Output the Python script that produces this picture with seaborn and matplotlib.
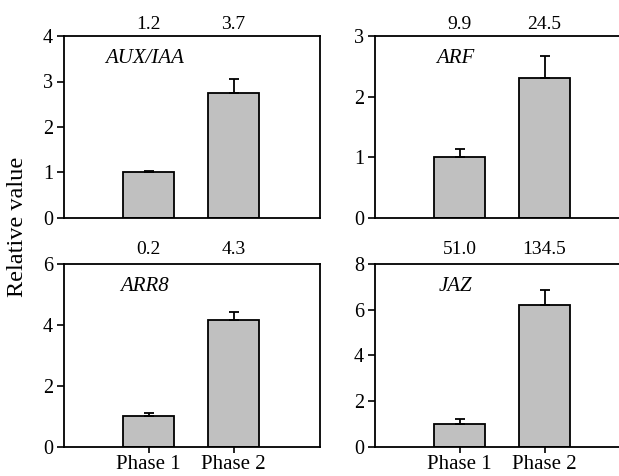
import pandas as pd
import matplotlib
matplotlib.use("Agg")
import matplotlib.pyplot as plt
import matplotlib.transforms as mtransforms
import seaborn as sns

# Data
phases = ["Phase 1", "Phase 2"]
genes = ["AUX/IAA", "ARF", "ARR8", "JAZ"]
means = {
    "AUX/IAA": [1.0, 2.74],
    "ARF": [1.0, 2.30],
    "ARR8": [1.0, 4.16],
    "JAZ": [1.0, 6.20],
}
errors = {
    "AUX/IAA": [0.03, 0.32],
    "ARF": [0.13, 0.37],
    "ARR8": [0.10, 0.27],
    "JAZ": [0.21, 0.64],
}
top_labels = {
    "AUX/IAA": ["1.2", "3.7"],
    "ARF": ["9.9", "24.5"],
    "ARR8": ["0.2", "4.3"],
    "JAZ": ["51.0", "134.5"],
}
y_max = {"AUX/IAA": 4, "ARF": 3, "ARR8": 6, "JAZ": 8}
y_step = {"AUX/IAA": 1, "ARF": 1, "ARR8": 2, "JAZ": 2}

sns.set_theme(style="white")
plt.rcParams["font.family"] = ["Liberation Serif", "DejaVu Serif"]

fig = plt.figure(figsize=(6.19, 4.76), dpi=100)

W, H = 619, 476
ax_w = 256
boxes = {
    "AUX/IAA": (64, 36, 218),
    "ARF": (375, 36, 218),
    "ARR8": (64, 264, 446.7),
    "JAZ": (375, 264, 446.7),
}

for gene in genes:
    x0, ytop, ybot = boxes[gene]
    ax = fig.add_axes([x0 / W, 1 - ybot / H, ax_w / W, (ybot - ytop) / H])
    df = pd.DataFrame({"phase": phases, "value": means[gene]})
    sns.barplot(data=df, x="phase", y="value", ax=ax, color="#c0c0c0",
                saturation=1, width=0.6, edgecolor="black", linewidth=1.3,
                errorbar=None)
    ax.errorbar(range(len(phases)), means[gene],
                yerr=[[0] * len(phases), errors[gene]],
                fmt="none", ecolor="black", elinewidth=1.3, capsize=3.5,
                capthick=1.3, zorder=1)
    ax.set_xlim(-1.0, 2.02)
    ax.set_ylim(0, y_max[gene])
    ax.set_yticks(range(0, y_max[gene] + 1, y_step[gene]))
    ax.set_xlabel("")
    ax.set_ylabel("")
    for s in ax.spines.values():
        s.set_visible(True)
        s.set_color("black")
        s.set_linewidth(1.3)
    ax.tick_params(axis="y", left=True, direction="out", length=5, width=1.2,
                   labelsize=14.5, pad=3, colors="black")
    bottom_row = gene in ("ARR8", "JAZ")
    ax.tick_params(axis="x", bottom=bottom_row, labelbottom=bottom_row,
                   direction="out", length=4, width=1.2, labelsize=15,
                   pad=2, colors="black")

    trans = mtransforms.blended_transform_factory(ax.transData, ax.transAxes)
    gap = 4 if bottom_row else 2
    for i, lab in enumerate(top_labels[gene]):
        ax.annotate(lab, xy=(i, 1.0), xycoords=trans, xytext=(0, gap),
                    textcoords="offset points", ha="center", va="bottom",
                    fontsize=14, color="black")
    ax.text(-0.05, 0.875, gene, transform=trans, ha="center", va="center",
            fontsize=15, style="italic", color="black")

fig.text(18 / W, 1 - 227 / H, "Relative value", rotation=90, ha="center",
         va="center", fontsize=17.5, color="black")

fig.savefig("out.png", dpi=100)
